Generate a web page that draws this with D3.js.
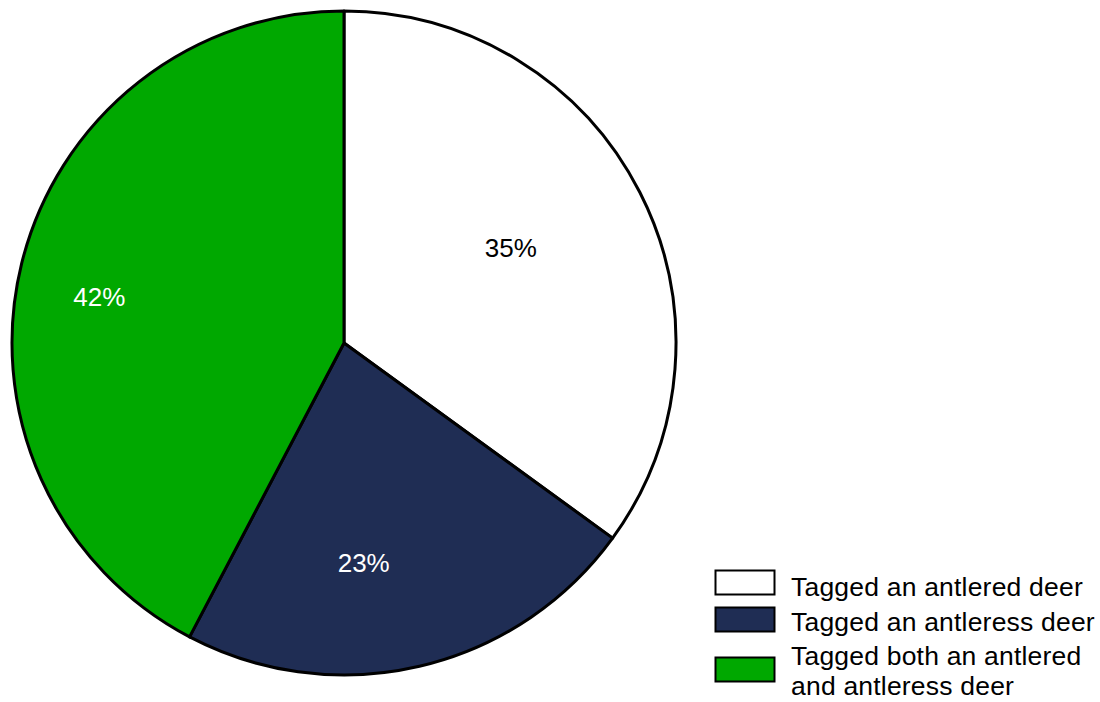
<!DOCTYPE html>
<html><head><meta charset="utf-8">
<script src="https://cdn.jsdelivr.net/npm/d3@7"></script>
<style>body{margin:0;background:#fff}svg{display:block}</style>
</head><body>
<svg id="c" width="1100" height="702"></svg>
<script>
const categories = ["Tagged an antlered deer", "Tagged an antleress deer", "Tagged both an antlered\nand antleress deer"];
const values = [35.0, 22.7, 42.3];
const valueLabels = ["35%", "23%", "42%"];
const colors = ["#ffffff", "#1f2d54", "#00a800"];
const labelColors = ["#000000", "#ffffff", "#ffffff"];

const svg = d3.select("#c");
const cx = 344, cy = 343, R = 332;
const FONT = "Liberation Sans, Arial, sans-serif";
const g = svg.append("g").attr("transform", `translate(${cx},${cy})`);
const pie = d3.pie().sort(null).value(d => d)(values);
const arc = d3.arc().innerRadius(0).outerRadius(R);
g.selectAll("path").data(pie).join("path")
  .attr("d", arc).attr("fill", (d,i) => colors[i])
  .attr("stroke", "#000").attr("stroke-width", 3).attr("stroke-linejoin", "round");

// label placement: radius fraction and angular nudge (layout)
const labelR = [0.578, 0.665, 0.75];
const labelNudge = [-0.045, 0.14, -0.055];
g.selectAll("text.v").data(pie).join("text").attr("class","v")
  .attr("x", (d,i) => { const a=(d.startAngle+d.endAngle)/2+labelNudge[i]; return Math.sin(a)*R*labelR[i]; })
  .attr("y", (d,i) => { const a=(d.startAngle+d.endAngle)/2+labelNudge[i]; return -Math.cos(a)*R*labelR[i]; })
  .attr("dy", "0.35em").attr("text-anchor", "middle")
  .attr("font-family", FONT).attr("font-size", 26)
  .attr("fill", (d,i) => labelColors[i]).text((d,i) => valueLabels[i]);

// legend
const legY = [570, 607, 657];
const textY = [596, 631, 665];
const lineGap = 30;
const lg = svg.append("g");
categories.forEach((c, i) => {
  lg.append("rect").attr("x", 715.5).attr("y", legY[i]+0.5).attr("width", 59).attr("height", 24)
    .attr("fill", colors[i]).attr("stroke", "#000").attr("stroke-width", 2);
  const lines = c.split("\n");
  const t = lg.append("text").attr("font-family", FONT).attr("font-size", 26.5)
    .attr("letter-spacing", 0.2).attr("fill", "#000");
  lines.forEach((l, j) => {
    t.append("tspan").attr("x", 791).attr("y", textY[i] + j*lineGap).text(l);
  });
});
</script>
</body></html>
